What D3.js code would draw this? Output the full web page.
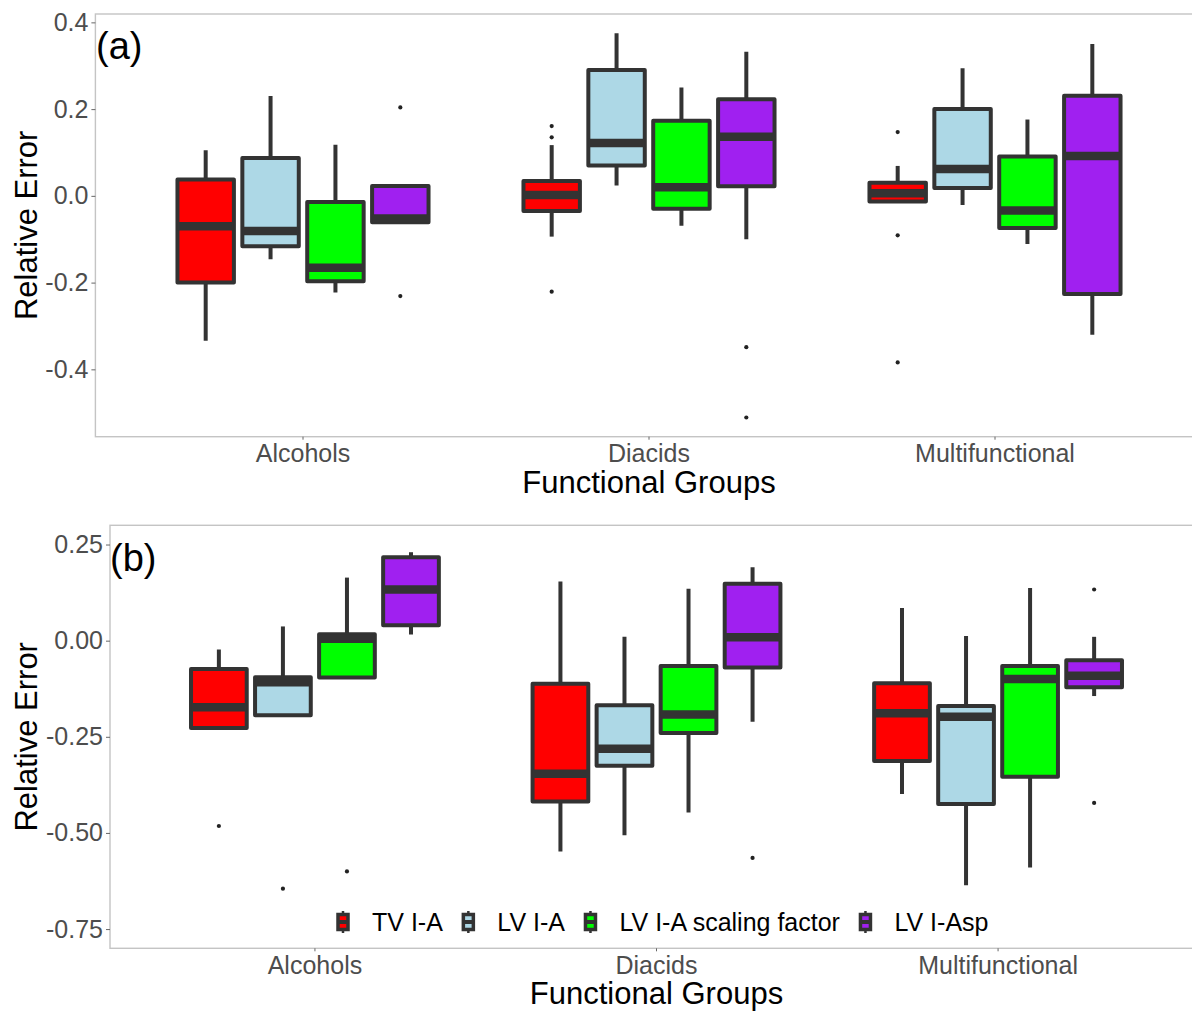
<!DOCTYPE html>
<html>
<head>
<meta charset="utf-8">
<script src="https://cdn.jsdelivr.net/npm/d3@7"></script>
<style>
  body { margin: 0; background: #fff; }
  svg { display: block; font-family: "Liberation Sans", Arial, sans-serif; }
</style>
</head>
<body>
<div id="chart"></div>
<script>
const groups = ["Alcohols", "Diacids", "Multifunctional"];
const series = ["TV I-A", "LV I-A", "LV I-A scaling factor", "LV I-Asp"];
const fills = ["#ff0000", "#add8e6", "#00ff00", "#a020f0"];

// group, series, lower whisker, q1, median, q3, upper whisker
const statsA = [
  ["Alcohols", "TV I-A", -0.334, -0.200, -0.070, 0.038, 0.105],
  ["Alcohols", "LV I-A", -0.146, -0.116, -0.081, 0.087, 0.230],
  ["Alcohols", "LV I-A scaling factor", -0.223, -0.197, -0.166, -0.014, 0.118],
  ["Alcohols", "LV I-Asp", -0.061, -0.061, -0.052, 0.023, 0.023],
  ["Diacids", "TV I-A", -0.094, -0.035, 0.002, 0.034, 0.117],
  ["Diacids", "LV I-A", 0.024, 0.070, 0.122, 0.290, 0.375],
  ["Diacids", "LV I-A scaling factor", -0.069, -0.030, 0.020, 0.173, 0.250],
  ["Diacids", "LV I-Asp", -0.100, 0.022, 0.136, 0.223, 0.332],
  ["Multifunctional", "TV I-A", -0.013, -0.013, 0.006, 0.030, 0.069],
  ["Multifunctional", "LV I-A", -0.021, 0.018, 0.062, 0.200, 0.294],
  ["Multifunctional", "LV I-A scaling factor", -0.111, -0.074, -0.034, 0.091, 0.176],
  ["Multifunctional", "LV I-Asp", -0.320, -0.226, 0.092, 0.231, 0.350],
];
const outliersA = [
  ["Alcohols", "LV I-Asp", 0.204],
  ["Alcohols", "LV I-Asp", -0.231],
  ["Diacids", "TV I-A", 0.161],
  ["Diacids", "TV I-A", 0.135],
  ["Diacids", "TV I-A", -0.221],
  ["Diacids", "LV I-Asp", -0.349],
  ["Diacids", "LV I-Asp", -0.511],
  ["Multifunctional", "TV I-A", 0.147],
  ["Multifunctional", "TV I-A", -0.091],
  ["Multifunctional", "TV I-A", -0.384],
];

const statsB = [
  ["Alcohols", "TV I-A", -0.227, -0.227, -0.173, -0.074, -0.023],
  ["Alcohols", "LV I-A", -0.194, -0.194, -0.108, -0.095, 0.037],
  ["Alcohols", "LV I-A scaling factor", -0.096, -0.096, 0.005, 0.017, 0.164],
  ["Alcohols", "LV I-Asp", 0.016, 0.040, 0.133, 0.217, 0.230],
  ["Diacids", "TV I-A", -0.548, -0.418, -0.346, -0.112, 0.154],
  ["Diacids", "LV I-A", -0.506, -0.325, -0.281, -0.168, 0.010],
  ["Diacids", "LV I-A scaling factor", -0.447, -0.240, -0.192, -0.066, 0.135],
  ["Diacids", "LV I-Asp", -0.211, -0.070, 0.009, 0.148, 0.191],
  ["Multifunctional", "TV I-A", -0.399, -0.313, -0.189, -0.111, 0.085],
  ["Multifunctional", "LV I-A", -0.636, -0.425, -0.198, -0.170, 0.012],
  ["Multifunctional", "LV I-A scaling factor", -0.590, -0.354, -0.100, -0.066, 0.137],
  ["Multifunctional", "LV I-Asp", -0.144, -0.121, -0.091, -0.051, 0.010],
];
const outliersB = [
  ["Alcohols", "TV I-A", -0.482],
  ["Alcohols", "LV I-A", -0.645],
  ["Alcohols", "LV I-A scaling factor", -0.600],
  ["Diacids", "LV I-Asp", -0.565],
  ["Multifunctional", "LV I-Asp", 0.133],
  ["Multifunctional", "LV I-Asp", -0.422],
];

const ticksA = [-0.4, -0.2, 0, 0.2, 0.4];
const ticksB = [-0.75, -0.5, -0.25, 0, 0.25];
const limitsB = [-0.75, 0.25];

const W = 1192;
const H = 1012;
const dark = "#333333";
const grayText = "#4d4d4d";

const svg = d3
  .select("#chart")
  .append("svg")
  .attr("width", W)
  .attr("height", H);

svg.append("rect").attr("width", W).attr("height", H).attr("fill", "#fff");

const color = d3.scaleOrdinal().domain(series).range(fills);

// ggplot-like 5% expansion of a continuous range
const expand = ([lo, hi]) => {
  const pad = (hi - lo) * 0.05;
  return [lo - pad, hi + pad];
};

function drawPanel({ top, bottom, left, right, domain, ticks, digits, stats, outliers, tag, tagX, tagY }) {
  const g = svg.append("g");

  const x = d3
    .scaleBand()
    .domain(groups)
    .range([left, right])
    .paddingInner(0.25)
    .paddingOuter(0.225);

  const xs = d3
    .scaleBand()
    .domain(series)
    .range([0, x.bandwidth()])
    .paddingInner(0.13)
    .paddingOuter(0.065);

  const y = d3.scaleLinear().domain(domain).range([bottom, top]);

  // panel border
  g.append("rect")
    .attr("x", left)
    .attr("y", top)
    .attr("width", right - left)
    .attr("height", bottom - top)
    .attr("fill", "none")
    .attr("stroke", "#c4c4c4")
    .attr("stroke-width", 1.4);

  const yAxis = g
    .append("g")
    .attr("transform", `translate(${left},0)`)
    .call(
      d3
        .axisLeft(y)
        .tickValues(ticks)
        .tickFormat((d) => d.toFixed(digits))
        .tickSize(4)
        .tickPadding(3)
    );
  yAxis.select(".domain").remove();
  yAxis.selectAll("line").attr("stroke", "#666");
  yAxis
    .selectAll("text")
    .attr("fill", grayText)
    .attr("font-size", 25)
    .attr("font-family", "Liberation Sans, Arial, sans-serif");

  const xAxis = g
    .append("g")
    .attr("transform", `translate(0,${bottom})`)
    .call(d3.axisBottom(x).tickSize(3).tickPadding(4.5));
  xAxis.select(".domain").remove();
  xAxis.selectAll("line").attr("stroke", "#666");
  xAxis
    .selectAll("text")
    .attr("fill", grayText)
    .attr("font-size", 25)
    .attr("font-family", "Liberation Sans, Arial, sans-serif");

  g.append("text")
    .attr("x", (left + right) / 2)
    .attr("y", bottom + 56)
    .attr("text-anchor", "middle")
    .attr("font-size", 31)
    .attr("fill", "#000")
    .text("Functional Groups");

  g.append("text")
    .attr("transform", `translate(37,${(top + bottom) / 2}) rotate(-90)`)
    .attr("text-anchor", "middle")
    .attr("font-size", 31)
    .attr("fill", "#000")
    .text("Relative Error");

  const boxes = g
    .append("g")
    .selectAll("g")
    .data(stats)
    .join("g")
    .attr("transform", (d) => `translate(${x(d[0]) + xs(d[1])},0)`);

  const bw = xs.bandwidth();

  boxes
    .append("line")
    .attr("x1", bw / 2)
    .attr("x2", bw / 2)
    .attr("y1", (d) => y(d[2]))
    .attr("y2", (d) => y(d[6]))
    .attr("stroke", dark)
    .attr("stroke-width", 4);

  boxes
    .append("rect")
    .attr("x", 0)
    .attr("width", bw)
    .attr("y", (d) => y(d[5]))
    .attr("height", (d) => y(d[3]) - y(d[5]))
    .attr("fill", (d) => color(d[1]))
    .attr("stroke", dark)
    .attr("stroke-width", 4)
    .attr("stroke-linejoin", "round");

  boxes
    .append("line")
    .attr("x1", 0)
    .attr("x2", bw)
    .attr("y1", (d) => y(d[4]))
    .attr("y2", (d) => y(d[4]))
    .attr("stroke", dark)
    .attr("stroke-width", 8.5);

  g.append("g")
    .selectAll("circle")
    .data(outliers)
    .join("circle")
    .attr("cx", (d) => x(d[0]) + xs(d[1]) + bw / 2)
    .attr("cy", (d) => y(d[2]))
    .attr("r", 2.1)
    .attr("fill", "#222");

  g.append("text")
    .attr("x", tagX)
    .attr("y", tagY)
    .attr("font-size", 38)
    .attr("fill", "#000")
    .text(tag);

  return { x, y };
}

const yExtentA = d3.extent([
  ...statsA.flatMap((d) => d.slice(2)),
  ...outliersA.map((d) => d[2]),
]);

drawPanel({
  top: 14,
  bottom: 436.7,
  left: 95.4,
  right: 1202.6,
  domain: expand(yExtentA),
  ticks: ticksA,
  digits: 1,
  stats: statsA,
  outliers: outliersA,
  tag: "(a)",
  tagX: 96,
  tagY: 59,
});

drawPanel({
  top: 525.3,
  bottom: 948.3,
  left: 110,
  right: 1203,
  domain: expand(limitsB),
  ticks: ticksB,
  digits: 2,
  stats: statsB,
  outliers: outliersB,
  tag: "(b)",
  tagX: 110,
  tagY: 571,
});

// legend, inside the bottom of panel (b)
const legend = svg.append("g");
const legendY = 922;
let cx = 343;
series.forEach((s) => {
  const item = legend.append("g");
  item
    .append("line")
    .attr("x1", cx)
    .attr("x2", cx)
    .attr("y1", legendY - 11)
    .attr("y2", legendY + 11)
    .attr("stroke", dark)
    .attr("stroke-width", 2.5);
  item
    .append("rect")
    .attr("x", cx - 5)
    .attr("y", legendY - 7.5)
    .attr("width", 10)
    .attr("height", 15)
    .attr("fill", color(s))
    .attr("stroke", dark)
    .attr("stroke-width", 3.5);
  item
    .append("line")
    .attr("x1", cx - 5)
    .attr("x2", cx + 5)
    .attr("y1", legendY)
    .attr("y2", legendY)
    .attr("stroke", dark)
    .attr("stroke-width", 4);
  const label = item
    .append("text")
    .attr("x", cx + 29)
    .attr("y", legendY + 8.5)
    .attr("font-size", 25)
    .attr("fill", "#000")
    .text(s);
  const w = label.node().getComputedTextLength();
  cx = cx + 29 + w + 25.5;
});
</script>
</body>
</html>
